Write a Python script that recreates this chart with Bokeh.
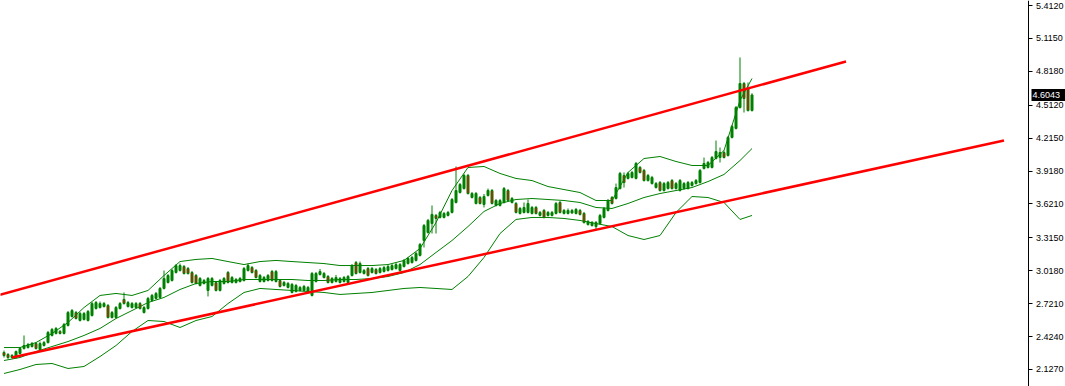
from bokeh.plotting import figure
from bokeh.models import FixedTicker, PrintfTickFormatter, LinearAxis, Range1d, ColumnDataSource
from bokeh.core.properties import value
from bokeh.embed import file_html
from bokeh.resources import INLINE

# ---------------- data (bar index, prices) ----------------
bar = list(range(188))

open_ = [
    2.280, 2.262, 2.235, 2.235, 2.271, 2.316, 2.325, 2.334, 2.361, 2.307,
    2.343, 2.370, 2.434, 2.452, 2.470, 2.452, 2.524, 2.605, 2.641, 2.569,
    2.578, 2.569, 2.614, 2.677, 2.686, 2.695, 2.704, 2.596, 2.596, 2.677,
    2.759, 2.695, 2.686, 2.686, 2.722, 2.641, 2.677, 2.750, 2.768, 2.777,
    2.858, 2.912, 2.930, 3.002, 3.020, 3.056, 3.038, 3.002, 2.975, 2.885,
    2.903, 2.840, 2.885, 2.912, 2.840, 2.903, 3.002, 2.912, 2.912, 2.921,
    2.930, 3.020, 3.047, 3.020, 2.921, 2.921, 2.930, 3.011, 2.921, 2.930,
    2.885, 2.867, 2.822, 2.831, 2.840, 2.840, 2.822, 2.795, 2.921, 2.984,
    2.957, 2.966, 2.912, 2.921, 2.912, 2.921, 2.912, 2.975, 3.092, 3.002,
    2.993, 3.038, 3.002, 3.029, 3.002, 3.011, 3.020, 3.029, 3.038, 3.020,
    3.056, 3.083, 3.092, 3.111, 3.156, 3.291, 3.363, 3.444, 3.517, 3.499,
    3.499, 3.517, 3.544, 3.634, 3.724, 3.760, 3.878, 3.679, 3.625, 3.679,
    3.616, 3.697, 3.742, 3.607, 3.607, 3.634, 3.742, 3.634, 3.625, 3.535,
    3.544, 3.544, 3.535, 3.589, 3.517, 3.562, 3.517, 3.517, 3.535, 3.634,
    3.535, 3.535, 3.540, 3.535, 3.562, 3.535, 3.435, 3.426, 3.417, 3.444,
    3.499, 3.562, 3.679, 3.670, 3.760, 3.878, 3.851, 3.860, 3.851, 3.950,
    3.923, 3.832, 3.805, 3.769, 3.814, 3.742, 3.760, 3.832, 3.760, 3.742,
    3.760, 3.760, 3.787, 3.805, 3.814, 3.941, 3.950, 3.950, 4.031, 4.040,
    4.085, 4.058, 4.221, 4.302, 4.491, 4.708, 4.663, 4.464,
]

close = [
    2.253, 2.235, 2.253, 2.289, 2.316, 2.343, 2.352, 2.361, 2.316, 2.361,
    2.370, 2.461, 2.488, 2.497, 2.452, 2.533, 2.641, 2.659, 2.587, 2.632,
    2.632, 2.650, 2.722, 2.731, 2.722, 2.722, 2.596, 2.641, 2.686, 2.722,
    2.722, 2.731, 2.722, 2.722, 2.677, 2.686, 2.768, 2.795, 2.813, 2.858,
    2.948, 2.975, 3.020, 3.065, 3.065, 2.993, 2.993, 2.912, 2.903, 2.948,
    2.930, 2.948, 2.948, 2.840, 2.930, 2.948, 2.912, 2.957, 2.939, 2.948,
    3.038, 3.065, 3.002, 2.957, 2.975, 2.957, 2.975, 2.930, 3.011, 2.876,
    2.912, 2.903, 2.894, 2.885, 2.867, 2.876, 2.867, 2.993, 2.993, 3.011,
    2.993, 2.912, 2.948, 2.957, 2.948, 2.957, 2.966, 3.065, 2.993, 3.083,
    3.020, 2.975, 3.038, 2.993, 3.038, 3.047, 3.056, 3.065, 3.074, 3.074,
    3.111, 3.129, 3.138, 3.174, 3.255, 3.426, 3.472, 3.526, 3.490, 3.544,
    3.535, 3.544, 3.661, 3.742, 3.796, 3.878, 3.715, 3.715, 3.715, 3.625,
    3.688, 3.742, 3.625, 3.652, 3.652, 3.760, 3.652, 3.670, 3.544, 3.580,
    3.589, 3.625, 3.589, 3.535, 3.544, 3.499, 3.544, 3.544, 3.625, 3.544,
    3.562, 3.562, 3.562, 3.571, 3.526, 3.453, 3.462, 3.453, 3.453, 3.517,
    3.580, 3.652, 3.625, 3.769, 3.896, 3.814, 3.896, 3.905, 3.986, 3.905,
    3.832, 3.878, 3.860, 3.805, 3.742, 3.805, 3.814, 3.760, 3.805, 3.832,
    3.805, 3.814, 3.814, 3.832, 3.923, 3.986, 3.995, 4.040, 4.094, 4.085,
    4.040, 4.221, 4.320, 4.491, 4.708, 4.573, 4.464, 4.6043,
]

high = [
    2.298, 2.275, 2.266, 2.298, 2.330, 2.434, 2.366, 2.375, 2.375, 2.379,
    2.384, 2.475, 2.502, 2.510, 2.484, 2.547, 2.655, 2.673, 2.655, 2.646,
    2.646, 2.664, 2.736, 2.745, 2.740, 2.736, 2.718, 2.655, 2.700, 2.736,
    2.822, 2.745, 2.736, 2.736, 2.736, 2.700, 2.782, 2.809, 2.827, 2.872,
    3.020, 2.989, 3.034, 3.079, 3.083, 3.070, 3.052, 3.016, 2.989, 2.962,
    2.944, 2.962, 2.962, 2.926, 2.944, 2.962, 3.016, 2.971, 2.953, 2.962,
    3.052, 3.083, 3.061, 3.034, 2.989, 2.971, 2.989, 3.025, 3.025, 2.944,
    2.926, 2.917, 2.908, 2.899, 2.881, 2.890, 2.881, 3.007, 3.007, 3.034,
    3.007, 2.980, 2.962, 2.980, 2.962, 2.971, 2.980, 3.079, 3.106, 3.101,
    3.034, 3.052, 3.052, 3.043, 3.052, 3.061, 3.070, 3.079, 3.088, 3.088,
    3.125, 3.143, 3.152, 3.188, 3.269, 3.440, 3.486, 3.607, 3.531, 3.558,
    3.549, 3.558, 3.675, 3.959, 3.810, 3.892, 3.892, 3.729, 3.729, 3.693,
    3.711, 3.760, 3.756, 3.666, 3.666, 3.774, 3.756, 3.684, 3.639, 3.594,
    3.634, 3.661, 3.603, 3.603, 3.558, 3.576, 3.558, 3.558, 3.639, 3.648,
    3.576, 3.580, 3.576, 3.585, 3.576, 3.549, 3.476, 3.467, 3.467, 3.531,
    3.594, 3.666, 3.693, 3.805, 3.910, 3.905, 3.910, 3.919, 4.000, 3.964,
    3.937, 3.892, 3.874, 3.819, 3.828, 3.819, 3.828, 3.846, 3.819, 3.846,
    3.819, 3.828, 3.828, 3.846, 3.937, 4.040, 4.009, 4.054, 4.193, 4.130,
    4.103, 4.235, 4.334, 4.505, 4.943, 4.722, 4.717, 4.620,
]

low = [
    2.235, 2.222, 2.226, 2.226, 2.262, 2.307, 2.316, 2.325, 2.307, 2.298,
    2.334, 2.361, 2.425, 2.443, 2.443, 2.443, 2.515, 2.596, 2.578, 2.560,
    2.569, 2.560, 2.605, 2.668, 2.677, 2.686, 2.587, 2.587, 2.587, 2.668,
    2.713, 2.686, 2.677, 2.677, 2.668, 2.632, 2.668, 2.740, 2.759, 2.768,
    2.849, 2.903, 2.921, 2.993, 3.011, 2.984, 2.984, 2.903, 2.894, 2.876,
    2.894, 2.786, 2.876, 2.831, 2.831, 2.894, 2.903, 2.903, 2.903, 2.912,
    2.921, 3.011, 2.993, 2.948, 2.912, 2.912, 2.921, 2.921, 2.912, 2.867,
    2.876, 2.858, 2.813, 2.822, 2.831, 2.831, 2.813, 2.786, 2.912, 2.975,
    2.948, 2.903, 2.903, 2.912, 2.903, 2.912, 2.903, 2.966, 2.984, 2.993,
    2.984, 2.966, 2.993, 2.984, 2.993, 3.002, 3.011, 3.020, 3.029, 3.011,
    3.047, 3.074, 3.083, 3.101, 3.147, 3.228, 3.354, 3.354, 3.354, 3.490,
    3.490, 3.508, 3.535, 3.625, 3.715, 3.751, 3.706, 3.670, 3.616, 3.616,
    3.589, 3.688, 3.616, 3.598, 3.598, 3.625, 3.643, 3.625, 3.535, 3.526,
    3.535, 3.535, 3.526, 3.526, 3.508, 3.490, 3.508, 3.508, 3.526, 3.535,
    3.526, 3.526, 3.531, 3.526, 3.517, 3.444, 3.426, 3.417, 3.390, 3.435,
    3.490, 3.553, 3.616, 3.661, 3.751, 3.769, 3.842, 3.851, 3.842, 3.896,
    3.823, 3.823, 3.796, 3.760, 3.733, 3.733, 3.751, 3.751, 3.751, 3.733,
    3.751, 3.751, 3.778, 3.796, 3.805, 3.932, 3.941, 3.941, 4.022, 3.995,
    4.031, 4.049, 4.212, 4.293, 4.482, 4.446, 4.455, 4.455,
]

# Bollinger bands, read every 4th bar
band_bar = [0, 4, 8, 12, 16, 20, 24, 28, 32, 36,
            40, 44, 48, 52, 56, 60, 64, 68, 72, 76,
            80, 84, 88, 92, 96, 100, 104, 108, 112, 116,
            120, 124, 128, 132, 136, 140, 144, 148, 152, 156,
            160, 164, 168, 172, 176, 180, 184, 187]
upper_band = [2.325, 2.325, 2.370, 2.452, 2.551, 2.686, 2.795, 2.813, 2.795, 2.840,
              2.975, 3.101, 3.120, 3.129, 3.101, 3.074, 3.101, 3.111, 3.101, 3.092,
              3.083, 3.065, 3.065, 3.065, 3.074, 3.111, 3.219, 3.453, 3.742, 3.950,
              3.959, 3.896, 3.851, 3.832, 3.778, 3.751, 3.724, 3.652, 3.652, 3.905,
              4.031, 4.049, 4.004, 3.968, 3.968, 4.103, 4.555, 4.753]
middle_band = [2.208, 2.235, 2.289, 2.334, 2.379, 2.434, 2.497, 2.587, 2.659, 2.731,
               2.777, 2.849, 2.903, 2.921, 2.921, 2.939, 2.939, 2.939, 2.939, 2.930,
               2.930, 2.939, 2.939, 2.948, 2.966, 3.002, 3.074, 3.183, 3.291, 3.417,
               3.553, 3.625, 3.661, 3.670, 3.661, 3.652, 3.634, 3.589, 3.580, 3.625,
               3.679, 3.715, 3.742, 3.769, 3.823, 3.887, 4.013, 4.121]
lower_band = [2.091, 2.127, 2.172, 2.181, 2.136, 2.154, 2.244, 2.343, 2.470, 2.569,
              2.560, 2.506, 2.569, 2.605, 2.722, 2.822, 2.858, 2.849, 2.840, 2.831,
              2.822, 2.804, 2.813, 2.822, 2.840, 2.858, 2.867, 2.858, 2.849, 2.966,
              3.138, 3.354, 3.481, 3.499, 3.499, 3.490, 3.472, 3.444, 3.417, 3.336,
              3.300, 3.336, 3.544, 3.688, 3.679, 3.634, 3.481, 3.517]

# trend channel lines
upper_trend_bar = [-1, 210.5]
upper_trend_price = [2.801, 4.907]
lower_trend_bar = [2, 250]
lower_trend_price = [2.235, 4.194]

price_ticks = [2.1270, 2.4240, 2.7210, 3.0180, 3.3150, 3.6210,
               3.9180, 4.2150, 4.5120, 4.8180, 5.1150, 5.4120]
last_price = 4.6043

# ---------------- layout constants (pixels) ----------------
W, H = 1065, 386
PX_PER_BAR = 4.0
X0 = -0.875                      # bar value at the left frame edge
AXIS_PX = 1027.5                 # price-axis line position
def px_to_bar(px):
    return X0 + px / PX_PER_BAR

GREEN = "#008000"
RED_FILL = "#ff0000"

up_idx = [i for i in bar if close[i] >= open_[i]]
dn_idx = [i for i in bar if close[i] < open_[i]]

def sub(idx):
    return ColumnDataSource(dict(
        x=[bar[i] for i in idx],
        top=[max(open_[i], close[i]) for i in idx],
        bottom=[min(open_[i], close[i]) for i in idx],
    ))

wick_src = ColumnDataSource(dict(x=bar, high=high, low=low))

p = figure(width=W, height=H, frame_width=W, frame_height=H,
           x_range=Range1d(X0, px_to_bar(W)), y_range=Range1d(1.9734, 5.457),
           output_backend="svg", toolbar_location=None,
           y_axis_location=None, x_axis_location=None,
           min_border_left=0, min_border_top=0, min_border_bottom=0, min_border_right=0)
p.xgrid.visible = False
p.ygrid.visible = False
p.outline_line_color = None
p.background_fill_color = "white"
p.border_fill_color = "white"

yax = LinearAxis(fixed_location=px_to_bar(AXIS_PX))
yax.ticker = FixedTicker(ticks=price_ticks)
yax.formatter = PrintfTickFormatter(format="%.4f")
yax.axis_line_color = "black"
yax.axis_line_width = 1
yax.major_tick_line_color = "black"
yax.major_tick_out = 4
yax.major_tick_in = 0
yax.minor_tick_line_color = None
yax.major_label_standoff = 4
yax.major_label_text_font = "Liberation Sans"
yax.major_label_text_font_size = "9px"
yax.major_label_text_color = "black"
p.add_layout(yax, "right")

# wicks
p.segment(x0="x", y0="low", x1="x", y1="high", source=wick_src,
          line_color=GREEN, line_width=1)
# bodies
p.vbar(x="x", top="top", bottom="bottom", width=0.5, source=sub(up_idx),
       fill_color=GREEN, line_color=GREEN, line_width=1)
p.vbar(x="x", top="top", bottom="bottom", width=0.5, source=sub(dn_idx),
       fill_color=RED_FILL, line_color=GREEN, line_width=1)

# Bollinger bands
for band in (upper_band, middle_band, lower_band):
    p.line(band_bar, band, line_color=GREEN, line_width=1)

# trend lines
p.line(upper_trend_bar, upper_trend_price, line_color="#ff0000", line_width=2.5)
p.line(lower_trend_bar, lower_trend_price, line_color="#ff0000", line_width=2.5)

# current price tag on the price scale
p.rect(x=[px_to_bar(1048)], y=[last_price], width=34, height=12,
       width_units="screen", height_units="screen",
       fill_color="black", line_color=None)
p.text(x=[px_to_bar(1032)], y=[last_price], text=[f"{last_price:.4f}"],
       text_color="white", text_font=value("Liberation Sans"),
       text_font_size="9px", text_align="left", text_baseline="middle")

open("out.html", "w").write(file_html(p, INLINE))
